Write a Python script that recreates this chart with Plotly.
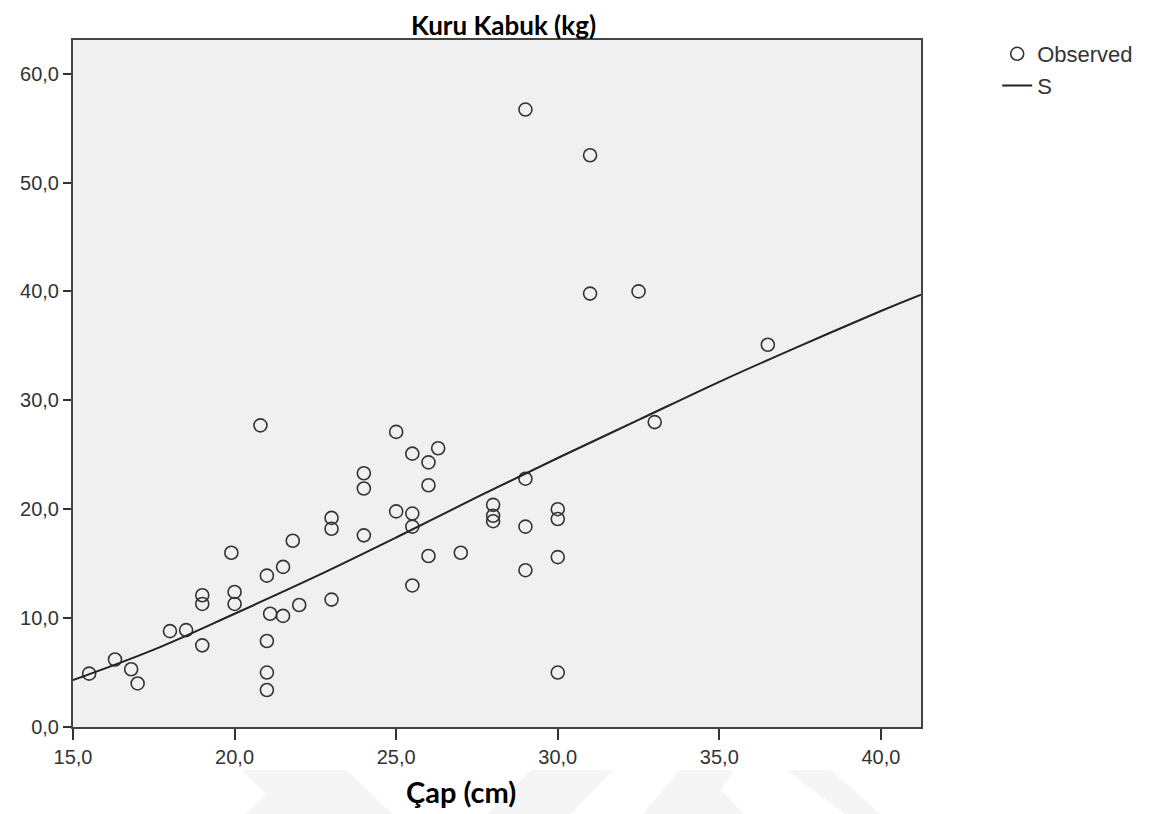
import plotly.graph_objects as go

# Observed points (Çap cm, Kuru Kabuk kg)
x_obs = [15.5, 16.3, 16.8, 17.0, 18.0, 18.5, 19.0, 19.0, 19.0, 19.9, 20.0, 20.0, 20.8,
         21.0, 21.1, 21.0, 21.0, 21.0, 21.5, 21.5, 21.8, 22.0, 23.0, 23.0, 23.0, 24.0,
         24.0, 24.0, 25.0, 25.0, 25.5, 25.5, 25.5, 25.5, 26.0, 26.3, 26.0, 26.0, 27.0,
         28.0, 28.0, 28.0, 29.0, 29.0, 29.0, 29.0, 30.0, 30.0, 30.0, 30.0, 31.0, 31.0,
         32.5, 33.0, 36.5]
y_obs = [4.9, 6.2, 5.3, 4.0, 8.8, 8.9, 7.5, 12.1, 11.3, 16.0, 12.4, 11.3, 27.7,
         13.9, 10.4, 7.9, 5.0, 3.4, 14.7, 10.2, 17.1, 11.2, 19.2, 18.2, 11.7, 23.3,
         21.9, 17.6, 27.1, 19.8, 25.1, 19.6, 18.4, 13.0, 24.3, 25.6, 22.2, 15.7, 16.0,
         20.4, 19.4, 18.9, 56.7, 22.8, 18.4, 14.4, 20.0, 19.1, 15.6, 5.0, 52.5, 39.8,
         40.0, 28.0, 35.1]

# S-curve fit
x_fit = [15.0, 17.5, 20.0, 22.5, 25.0, 27.5, 30.0, 32.5, 35.0, 37.5, 40.0, 41.24]
y_fit = [4.3, 7.1, 10.4, 13.8, 17.4, 21.1, 24.7, 28.2, 31.7, 35.0, 38.2, 39.7]

x_ticks = [15, 20, 25, 30, 35, 40]
y_ticks = [0, 10, 20, 30, 40, 50, 60]

title_text = "Kuru Kabuk (kg)"
xaxis_title = "Çap (cm)"

OFF = 8  # default page body margin
W, H = 1150 - OFF, 814 - OFF
# plot area in page pixels
L, R, T, B = 67, 924, 40, 727


def px(xp):
    return (xp - L) / (R - L)


def py(yp):
    return (B - yp) / (B - T)


fig = go.Figure()
fig.add_trace(go.Scatter(
    x=x_obs, y=y_obs, mode="markers", name="Observed",
    marker=dict(symbol="circle-open", size=13, color="#333333",
                line=dict(width=1.6, color="#333333")),
))
fig.add_trace(go.Scatter(
    x=x_fit, y=y_fit, mode="lines", name="S",
    line=dict(color="#222222", width=2, shape="spline"),
))

# faint watermark chevrons at the bottom
wm = [
    [(237, 770), (343, 770), (390, 814), (240, 814), (263, 795)],
    [(530, 770), (613, 770), (570, 814), (486, 814)],
    [(680, 770), (735, 770), (722, 790), (745, 814), (643, 814)],
    [(788, 770), (833, 770), (883, 814), (847, 814)],
]
shapes = []
for poly in wm:
    path = "M " + " L ".join(f"{px(a):.4f},{py(b):.4f}" for a, b in poly) + " Z"
    shapes.append(dict(type="path", xref="paper", yref="paper", path=path,
                       fillcolor="#f5f5f5", line=dict(width=0), layer="below"))

fig.update_layout(
    width=W, height=H,
    margin=dict(l=L - OFF, r=W - (R - OFF), t=T - OFF, b=H - (B - OFF), pad=0),
    paper_bgcolor="white",
    plot_bgcolor="#f0f0f0",
    separators=", ",
    font=dict(family="Liberation Sans, Arial, sans-serif", size=20, color="#333333"),
    showlegend=True,
    legend=dict(x=px(1001), y=py(33), xanchor="left", yanchor="top",
                bgcolor="rgba(0,0,0,0)", font=dict(size=22, color="#333333"),
                itemwidth=30, tracegroupgap=0),
    shapes=shapes,
    annotations=[
        dict(text="<b>" + title_text + "</b>", xref="paper", yref="paper",
             x=px(502), y=py(8.5), xanchor="center", yanchor="top", borderpad=0,
             showarrow=False, font=dict(family="Lato, sans-serif", size=26, color="#000000")),
        dict(text="<b>" + xaxis_title + "</b>", xref="paper", yref="paper",
             x=px(459), y=py(791), xanchor="center", yanchor="middle",
             showarrow=False, font=dict(family="Lato, sans-serif", size=29, color="#000000")),
    ],
)
fig.update_xaxes(range=[15, 15 + (R - L) / 32.66], tickvals=x_ticks, tickformat=".1f",
                 showgrid=False, zeroline=False, showline=True, linecolor="#444444",
                 linewidth=2, mirror=True, ticks="outside", ticklen=11, tickwidth=2,
                 tickcolor="#333333", tickfont=dict(size=20, color="#333333"))
fig.update_yaxes(range=[0, (B - T) / 10.89], tickvals=y_ticks, tickformat=".1f",
                 showgrid=False, zeroline=False, showline=True, linecolor="#444444",
                 linewidth=2, mirror=True, ticks="outside", ticklen=8, tickwidth=2,
                 tickcolor="#333333", tickfont=dict(size=20, color="#333333"))

fig.write_html("out.html")
